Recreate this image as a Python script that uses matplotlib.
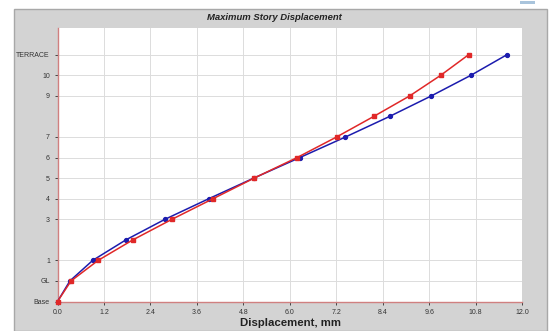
import matplotlib
matplotlib.use("Agg")
from matplotlib import pyplot as plt
from matplotlib.patches import Rectangle

# story levels, bottom to top
levels = ['Base', 'GL', '1', '2', '3', '4', '5', '6', '7', '8', '9', '10', 'TERRACE']
shown_labels = ['Base', 'GL', '1', '3', '4', '5', '6', '7', '9', '10', 'TERRACE']

# displacement (mm)
disp_blue = [0.0, 0.32, 0.91, 1.77, 2.78, 3.91, 5.07, 6.26, 7.44, 8.58, 9.66, 10.68, 11.61]
disp_red = [0.0, 0.35, 1.05, 1.95, 2.96, 4.02, 5.08, 6.19, 7.21, 8.17, 9.10, 9.90, 10.62]

x_ticks = [0.0, 1.2, 2.4, 3.6, 4.8, 6.0, 7.2, 8.4, 9.6, 10.8, 12.0]

plt.rcParams['font.family'] = ['Liberation Sans', 'DejaVu Sans']

W, H = 552, 331
fig = plt.figure(figsize=(W / 100, H / 100), dpi=100)
fig.patch.set_facecolor('white')

# grey panel behind the chart
fig.patches.append(Rectangle((14 / W, 0), (547 - 14) / W, (H - 9) / H,
                             transform=fig.transFigure, facecolor='#d3d3d3',
                             edgecolor='#a8a8a8', lw=1.0, zorder=-10))
# small blue bar at top right (window artefact)
fig.patches.append(Rectangle((520 / W, (H - 4) / H), 15 / W, 3 / H,
                             transform=fig.transFigure, facecolor='#a9c4dc',
                             edgecolor='none', zorder=-9))

ax = fig.add_axes([57.5 / W, 29.5 / H, (522 - 57.5) / W, (301.5 - 28) / H])
ax.set_zorder(5)
ax.set_facecolor('white')

y = list(range(len(levels)))
ax.plot(disp_blue, y, color='#1c1cae', lw=1.1, marker='o', ms=2.8,
        clip_on=False, zorder=3)
ax.plot(disp_red, y, color='#e02828', lw=1.1, marker='s', ms=2.8,
        clip_on=False, zorder=4)

ax.set_xlim(0, 12.0)
ax.set_ylim(0, 13.3)
ax.set_xticks(x_ticks)
ax.set_xticklabels(['%.1f' % v for v in x_ticks])
ax.set_yticks([levels.index(l) for l in shown_labels])
ax.set_yticklabels(shown_labels)
ax.tick_params(labelsize=5, length=2.5, width=0.7, color='#444444',
               labelcolor='#333333', pad=3)

ax.grid(True, color='#dcdcdc', lw=0.7)
ax.set_axisbelow(True)
for side in ('top', 'right'):
    ax.spines[side].set_visible(False)
for side in ('left', 'bottom'):
    ax.spines[side].set_color('#d08080')
    ax.spines[side].set_linewidth(1.0)

fig.text(274 / W, 1 - 17.5 / H, 'Maximum Story Displacement', ha='center',
         va='center', fontsize=6.8, fontweight='bold', style='italic',
         color='#222222')
fig.text(290 / W, 1 - 323.5 / H, 'Displacement, mm', ha='center', va='center',
         fontsize=8.2, fontweight='bold', color='#222222')

fig.savefig('out.png', dpi=100)
